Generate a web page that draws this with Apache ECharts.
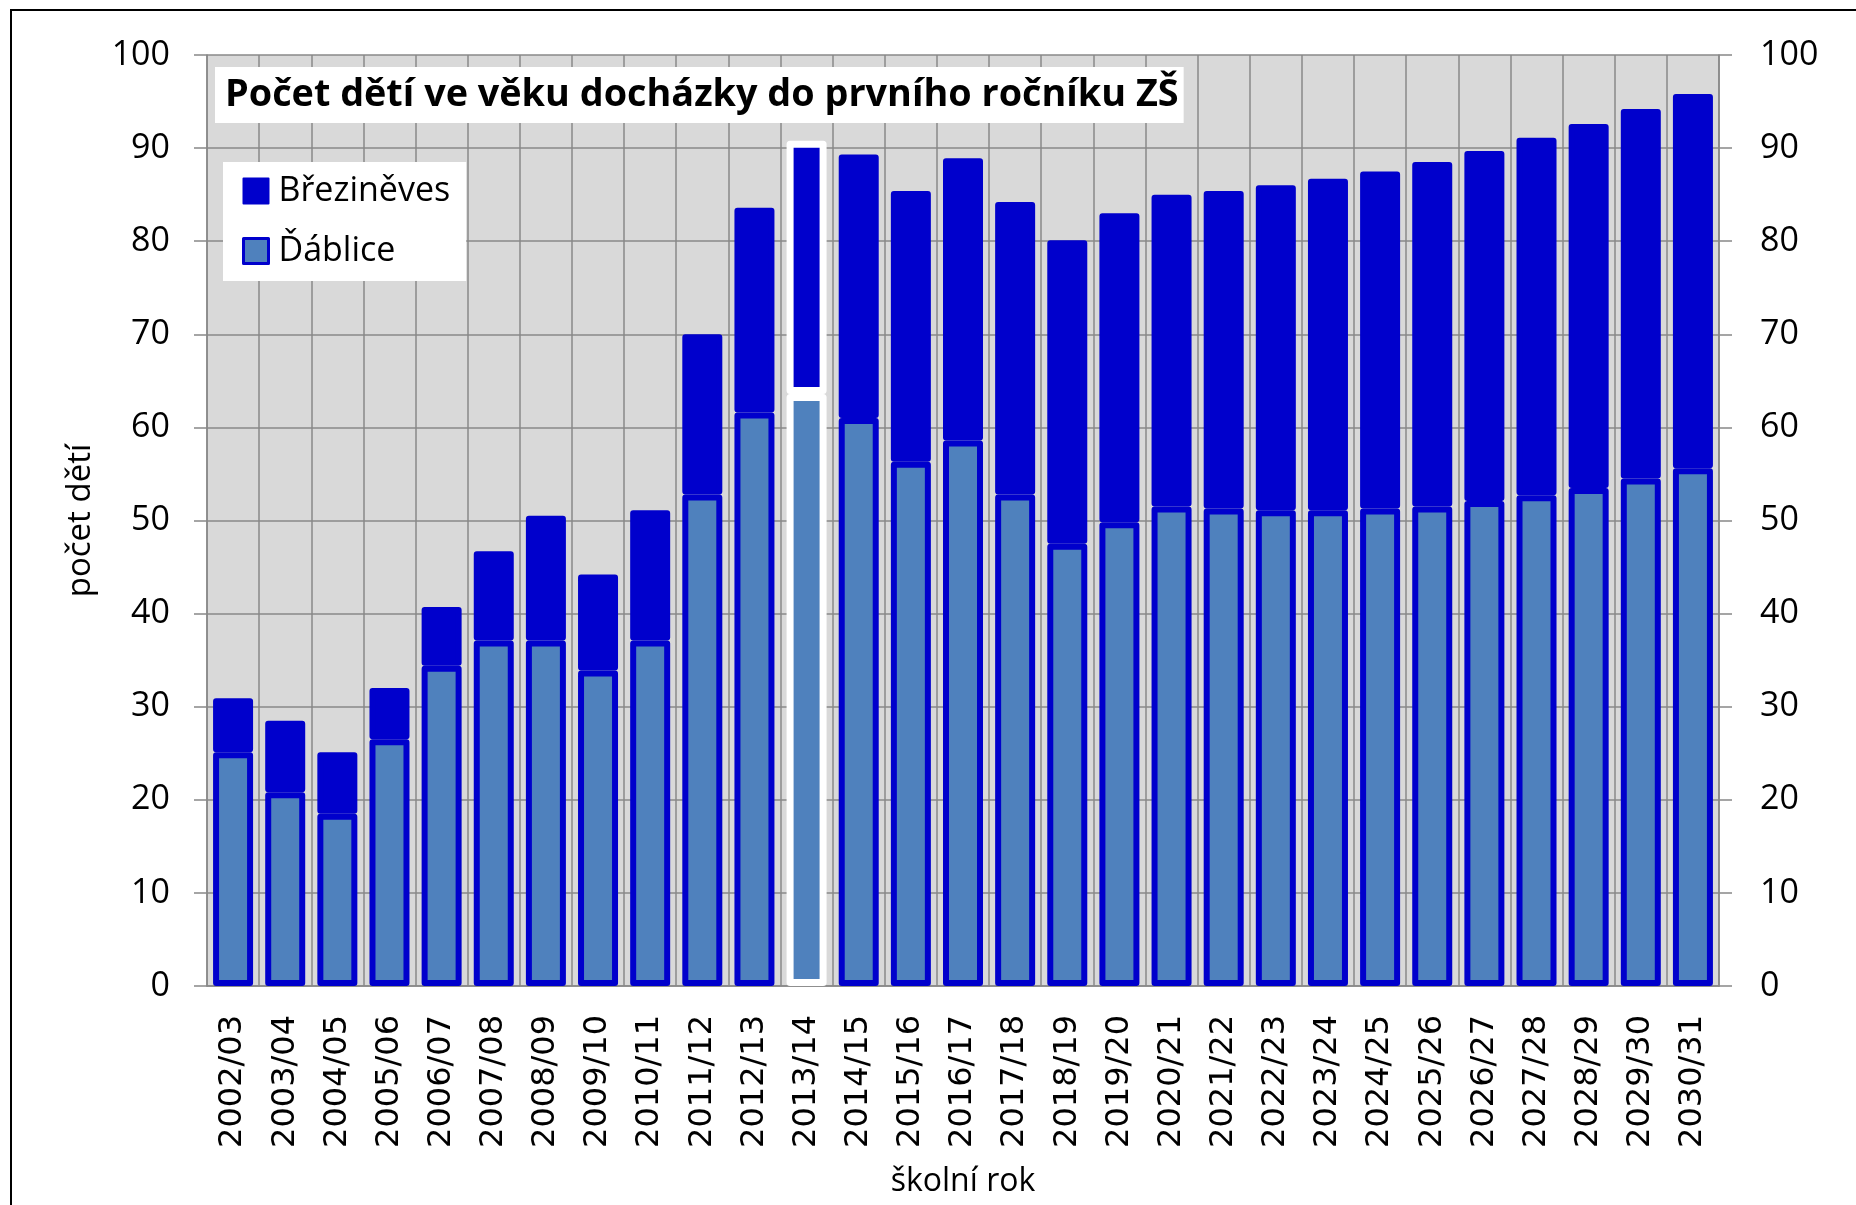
<!DOCTYPE html>
<html>
<head>
<meta charset="utf-8">
<script src="https://cdn.jsdelivr.net/npm/echarts@6/dist/echarts.min.js"></script>
<style>
  html, body { margin: 0; padding: 0; background: #fff; }
  #chart { width: 1856px; height: 1205px; }
</style>
</head>
<body>
<div id="chart"></div>
<script>
// school years on the x axis
const categories = [
    '2002/03', '2003/04', '2004/05', '2005/06', '2006/07', '2007/08', '2008/09', '2009/10',
    '2010/11', '2011/12', '2012/13', '2013/14', '2014/15', '2015/16', '2016/17', '2017/18',
    '2018/19', '2019/20', '2020/21', '2021/22', '2022/23', '2023/24', '2024/25', '2025/26',
    '2026/27', '2027/28', '2028/29', '2029/30', '2030/31'
];

// children per year (stacked: Ďáblice at the bottom)
const dablice = [
    25.1, 20.8, 18.5, 26.5, 34.4, 37.1, 37.1, 33.9, 37.1, 52.8, 61.6, 63.6, 61.0, 56.3, 58.6,
    52.8, 47.5, 49.8, 51.5, 51.3, 51.1, 51.1, 51.3, 51.5, 52.1, 52.7, 53.5, 54.5, 55.6
];
const brezineves = [
    5.8, 7.7, 6.6, 5.5, 6.3, 9.6, 13.4, 10.3, 14.0, 17.2, 22.0, 27.2, 28.3, 29.1, 30.3,
    31.4, 32.6, 33.2, 33.5, 34.1, 34.9, 35.6, 36.2, 37.0, 37.6, 38.4, 39.1, 39.7, 40.2
];

// the year drawn with a white outline
const highlightYear = '2013/14';

const yTicks = { min: 0, max: 100, interval: 10 };

const DARK = '#0000CC';
const LIGHT = '#4F81BD';
const GRID_LINE = '#888888';

const chart = echarts.init(document.getElementById('chart'));

const mark = (values) => values.map((v, i) =>
    categories[i] === highlightYear
        ? { value: v, itemStyle: { borderColor: '#fff', borderWidth: 7 } }
        : v
);

const yAxisBase = {
    type: 'value',
    min: yTicks.min,
    max: yTicks.max,
    interval: yTicks.interval,
    axisLine: { show: true, lineStyle: { color: GRID_LINE, width: 1.5 } },
    axisTick: { show: true, length: 13, lineStyle: { color: GRID_LINE, width: 1.5 } },
    axisLabel: { fontFamily: 'Open Sans', fontSize: 34, color: '#000' }
};

const option = {
    animation: false,
    backgroundColor: '#fff',
    title: {
        text: 'Počet dětí ve věku docházky do prvního ročníku ZŠ',
        left: 215,
        top: 67,
        padding: [6, 5, 6, 10],
        backgroundColor: '#fff',
        textStyle: {
            fontFamily: 'Open Sans',
            fontWeight: 'bold',
            fontSize: 37.8,
            lineHeight: 44,
            color: '#000'
        }
    },
    legend: {
        orient: 'vertical',
        left: 223,
        top: 162,
        padding: [12, 16, 13, 19],
        backgroundColor: '#fff',
        itemWidth: 25,
        itemHeight: 25,
        itemGap: 26,
        icon: 'rect',
        data: [
            { name: 'Březiněves' },
            { name: 'Ďáblice', itemStyle: { borderWidth: 3 } }
        ],
        textStyle: {
            fontFamily: 'Open Sans',
            fontSize: 34,
            lineHeight: 25,
            color: '#000',
            padding: [0, 0, 0, 5]
        }
    },
    grid: {
        left: 207,
        right: 137,
        top: 55,
        bottom: 219,
        show: true,
        backgroundColor: '#D9D9D9',
        borderWidth: 0
    },
    xAxis: {
        type: 'category',
        data: categories,
        name: 'školní rok',
        nameLocation: 'middle',
        nameGap: 180,
        nameTextStyle: { fontFamily: 'Open Sans', fontSize: 32, color: '#000' },
        axisLine: { lineStyle: { color: GRID_LINE, width: 1.5 } },
        axisTick: { length: 14, lineStyle: { color: GRID_LINE, width: 1.5 } },
        splitLine: { show: true, lineStyle: { color: GRID_LINE, width: 1.5 } },
        axisLabel: {
            rotate: 90,
            margin: 29,
            fontFamily: 'DejaVu Sans',
            fontSize: 32,
            color: '#000'
        }
    },
    yAxis: [
        Object.assign({}, yAxisBase, {
            position: 'left',
            name: 'počet dětí',
            nameLocation: 'middle',
            nameGap: 110,
            nameTextStyle: { fontFamily: 'Open Sans', fontSize: 33, color: '#000' },
            axisLabel: Object.assign({}, yAxisBase.axisLabel, { margin: 37 }),
            splitLine: { show: true, lineStyle: { color: GRID_LINE, width: 1.5 } }
        }),
        Object.assign({}, yAxisBase, {
            position: 'right',
            axisLabel: Object.assign({}, yAxisBase.axisLabel, { margin: 41 }),
            splitLine: { show: false }
        })
    ],
    series: [
        {
            name: 'Ďáblice',
            type: 'bar',
            stack: 'total',
            barWidth: 40,
            data: mark(dablice),
            itemStyle: { color: LIGHT, borderColor: DARK, borderWidth: 6, borderJoin: 'round' }
        },
        {
            name: 'Březiněves',
            type: 'bar',
            stack: 'total',
            barWidth: 40,
            data: mark(brezineves),
            itemStyle: { color: DARK, borderColor: DARK, borderWidth: 6, borderJoin: 'round' }
        }
    ],
    graphic: [
        {
            type: 'rect',
            silent: true,
            shape: { x: 11, y: 10, width: 1900, height: 1300 },
            style: { fill: 'none', stroke: '#000', lineWidth: 2 }
        }
    ]
};

chart.setOption(option);
</script>
</body>
</html>
